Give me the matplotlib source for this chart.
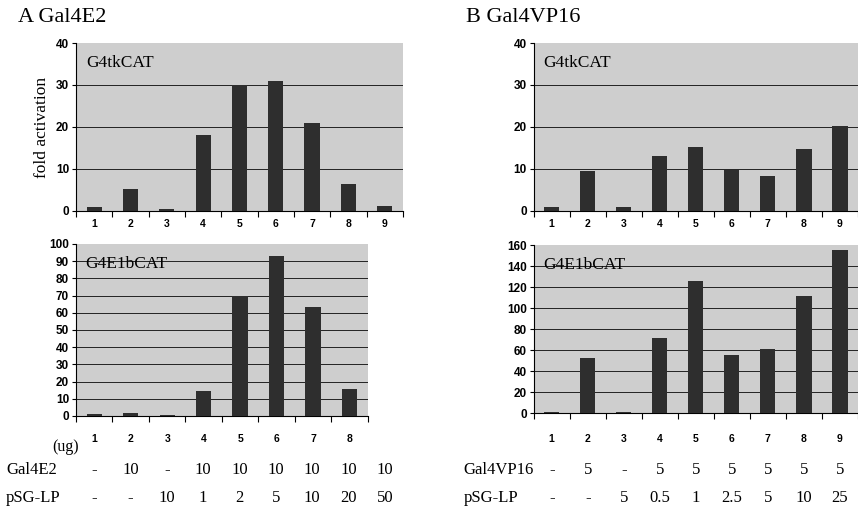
import numpy as np
import matplotlib
matplotlib.use('Agg')
import matplotlib.pyplot as plt

lanes = [1, 2, 3, 4, 5, 6, 7, 8, 9]

# panel A, Gal4E2
a_tk = [1.0, 5.3, 0.4, 18, 30, 31, 21, 6.5, 1.2]
a_e1b = [1.0, 1.8, 0.8, 14.5, 70, 93, 63.5, 15.5]
a_gal4 = ['-', '10', '-', '10', '10', '10', '10', '10', '10']
a_psg = ['-', '-', '10', '1', '2', '5', '10', '20', '50']

# panel B, Gal4VP16
b_tk = [1.0, 9.5, 1.0, 13, 15.3, 9.8, 8.3, 14.8, 20.3]
b_e1b = [1.5, 53, 1.0, 72, 126, 55, 61, 112, 155]
b_gal4 = ['-', '5', '-', '5', '5', '5', '5', '5', '5']
b_psg = ['-', '-', '5', '0.5', '1', '2.5', '5', '10', '25']

serif = 'Liberation Serif'
sans = 'Liberation Sans'
bg = '#cecece'
bar_col = '#2e2e2e'

fig = plt.figure(figsize=(8.58, 5.12), dpi=100)


def panel(rect, vals, ymax, step, label, pad):
    ax = fig.add_axes(rect)
    x = np.arange(1, len(vals) + 1)
    ax.set_facecolor(bg)
    yt = np.arange(0, ymax + 1, step)
    # grid lines, none at the top edge
    ax.hlines(yt[1:-1], 0.5, len(vals) + 0.5, color='#222222', linewidth=0.7, zorder=1)
    ax.bar(x, vals, width=0.42, color=bar_col, zorder=3)
    ax.set_xlim(0.5, len(vals) + 0.5)
    ax.set_ylim(0, ymax)
    ax.set_yticks(yt)
    ax.set_xticks(x)
    ax.set_xticks(np.arange(0.5, len(vals) + 1, 1), minor=True)
    ax.tick_params(axis='x', which='major', length=0, pad=pad, labelsize=7.5)
    ax.tick_params(axis='x', which='minor', length=4, width=0.8, direction='out')
    ax.tick_params(axis='y', length=3, width=0.8, labelsize=8.5, pad=2)
    for t in ax.get_xticklabels() + ax.get_yticklabels():
        t.set_fontfamily(sans)
        t.set_fontweight('bold')
    for s in ['top', 'right']:
        ax.spines[s].set_visible(False)
    ax.spines['left'].set_linewidth(0.8)
    ax.spines['bottom'].set_linewidth(0.8)
    ax.text(0.03, 0.93, label, transform=ax.transAxes, family=serif,
            fontsize=12.5, va='top', ha='left', zorder=5)
    return ax


axA1 = panel([0.0886, 0.588, 0.381, 0.328], a_tk, 40, 10, 'G4tkCAT', 6)
axA2 = panel([0.0886, 0.1875, 0.340, 0.336], a_e1b, 100, 10, 'G4E1bCAT', 13)
axB1 = panel([0.622, 0.588, 0.378, 0.328], b_tk, 40, 10, 'G4tkCAT', 6)
axB2 = panel([0.622, 0.193, 0.378, 0.328], b_e1b, 160, 20, 'G4E1bCAT', 15)

axA1.set_ylabel('fold activation', family=serif, fontsize=12.5, labelpad=4)

fig.text(0.021, 0.966, 'A Gal4E2', family=serif, fontsize=16, va='center')
fig.text(0.543, 0.966, 'B Gal4VP16', family=serif, fontsize=16, va='center')
fig.text(0.076, 0.127, '(ug)', family=serif, fontsize=11.5, ha='center', va='center')


# dose table under each panel
def table(ax, name1, row1, name2, row2, xname):
    tr = matplotlib.transforms.blended_transform_factory(ax.transData, fig.transFigure)
    fig.text(xname, 0.082, name1, family=serif, fontsize=12, va='center')
    fig.text(xname, 0.027, name2, family=serif, fontsize=12, va='center')
    for i, (v1, v2) in enumerate(zip(row1, row2)):
        ax.text(i + 1, 0.082, v1, transform=tr, family=serif, fontsize=12,
                ha='center', va='center', clip_on=False)
        ax.text(i + 1, 0.027, v2, transform=tr, family=serif, fontsize=12,
                ha='center', va='center', clip_on=False)


table(axA1, 'Gal4E2', a_gal4, 'pSG-LP', a_psg, 0.007)
table(axB1, 'Gal4VP16', b_gal4, 'pSG-LP', b_psg, 0.54)

fig.savefig('out.png', dpi=100)
